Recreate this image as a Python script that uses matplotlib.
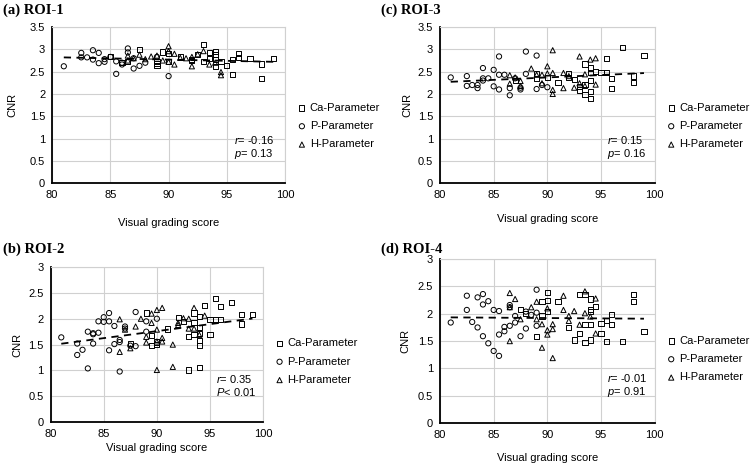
import matplotlib
matplotlib.use("Agg")
import matplotlib.pyplot as plt
import numpy as np

plt.rcParams['font.family'] = ['Liberation Sans', 'DejaVu Sans']
plt.rcParams['mathtext.fontset'] = 'custom'
plt.rcParams['mathtext.it'] = 'Liberation Sans:italic'
plt.rcParams['mathtext.rm'] = 'Liberation Sans'

# ---- ROI-1 ----
a_ca_x = [85, 86, 86.5, 87.5, 89, 89, 89.5, 90, 90, 91, 92, 92.5, 93, 93, 93.5, 93.5, 94, 94, 94, 94,
          94.5, 95, 95.5, 95.5, 96, 96, 97, 98, 98, 99, 89, 92]
a_ca_y = [2.84, 2.71, 2.73, 3.0, 2.68, 2.73, 2.94, 2.9, 2.73, 2.83, 2.75, 2.88, 3.11, 2.72, 2.92, 2.79,
          2.96, 2.89, 2.77, 2.62, 2.72, 2.64, 2.77, 2.44, 2.9, 2.82, 2.79, 2.67, 2.34, 2.79, 2.64, 2.78]
a_p_x = [81, 82.5, 82.5, 83, 83.5, 83.5, 84, 84, 84.5, 85, 85.5, 85.5, 86, 86, 86.5, 86.5, 87, 87.5,
         88, 89, 90, 84.5, 87]
a_p_y = [2.62, 2.92, 2.82, 2.82, 2.98, 2.77, 2.92, 2.69, 2.72, 2.83, 2.45, 2.73, 2.66, 2.7, 3.02, 2.93,
         2.57, 2.63, 2.7, 2.83, 2.4, 2.78, 2.8]
a_h_x = [86.5, 86.5, 87.5, 88.5, 89, 89.5, 90, 90, 90, 90.5, 90.5, 91, 91.5, 92, 92, 92.5, 93, 93.5,
         94, 94.5, 94.5, 87, 88]
a_h_y = [2.86, 2.75, 2.88, 2.84, 2.86, 2.75, 3.07, 2.96, 2.72, 2.9, 2.66, 2.81, 2.8, 2.62, 2.83, 2.89,
         2.96, 2.66, 2.7, 2.49, 2.42, 2.8, 2.78]

# ---- ROI-2 ----
b_ca_x = [87.5, 89, 89.5, 89.5, 90, 91, 92, 92.5, 93, 93, 93.5, 93.5, 93.5, 94, 94, 94, 94, 94, 94,
          94.5, 95, 95, 95.5, 95.5, 96, 96, 97, 98, 98, 99, 90]
b_ca_y = [1.52, 2.11, 1.67, 1.49, 1.5, 1.8, 2.03, 1.95, 1.66, 1.01, 1.92, 2.11, 1.69, 2.05, 1.83, 1.71,
          1.58, 1.49, 1.05, 2.25, 1.99, 1.7, 2.39, 1.99, 2.23, 1.98, 2.32, 2.08, 1.9, 2.08, 1.55]
b_p_x = [81, 82.5, 82.5, 83, 83.5, 83.5, 84, 84, 84.5, 84.5, 85, 85, 85.5, 85.5, 85.5, 86, 86, 86.5,
         86.5, 87, 87, 87.5, 88, 88, 89, 89, 90, 84, 86.5]
b_p_y = [1.64, 1.52, 1.30, 1.40, 1.04, 1.75, 1.72, 1.52, 1.73, 1.95, 2.03, 1.94, 2.11, 1.95, 1.39, 1.86,
         1.51, 1.59, 0.98, 1.85, 1.81, 1.48, 1.47, 2.13, 1.95, 1.75, 2.0, 1.7, 1.55]
b_h_x = [86.5, 86.5, 87, 87.5, 88.5, 89, 89, 89.5, 89.5, 90, 90, 90, 90, 90.5, 90.5, 90.5, 91.5, 91.5,
         92, 92.5, 93, 93, 93.5, 93.5, 94, 94.5, 88, 92]
b_h_y = [1.99, 1.36, 1.79, 1.43, 2.0, 1.65, 1.54, 2.1, 1.92, 2.17, 1.79, 1.56, 1.01, 2.21, 1.63, 1.56,
         1.5, 1.07, 1.92, 2.01, 2.0, 1.81, 2.21, 1.81, 1.69, 2.06, 1.85, 1.88]

# ---- ROI-3 ----
c_ca_x = [87, 89, 89, 90, 91, 92, 92, 92.5, 93, 93, 93.5, 93.5, 93.5, 94, 94, 94, 94, 94, 94.5, 95,
          95.5, 95.5, 96, 96, 97, 98, 98, 99]
c_ca_y = [2.31, 2.35, 2.45, 2.37, 2.25, 2.45, 2.37, 2.33, 2.09, 2.17, 2.67, 2.22, 1.98, 2.58, 2.48,
          2.3, 2.05, 1.9, 2.5, 2.48, 2.48, 2.8, 2.35, 2.12, 3.04, 2.4, 2.26, 2.87]
c_p_x = [81, 82.5, 82.5, 83, 83.5, 83.5, 84, 84, 84.5, 85, 85, 85.5, 85.5, 85.5, 86, 86.5, 86.5, 87,
         87.5, 88, 88, 89, 89, 89.5, 90, 87.5, 84]
c_p_y = [2.37, 2.18, 2.40, 2.2, 2.2, 2.13, 2.58, 2.35, 2.35, 2.54, 2.17, 2.84, 2.43, 2.1, 2.43, 1.97,
         2.13, 2.35, 2.14, 2.95, 2.45, 2.86, 2.11, 2.2, 2.15, 2.1, 2.3]
c_h_x = [86.5, 86.5, 87, 87.5, 87.5, 88.5, 89, 89.5, 89.5, 90, 90, 90.5, 90.5, 90.5, 90.5, 91.5, 91.5,
         92.5, 93, 93, 93.5, 94, 94.5, 94.5, 92, 93.5]
c_h_y = [2.42, 2.23, 2.37, 2.29, 2.18, 2.57, 2.43, 2.43, 2.24, 2.62, 2.46, 2.47, 2.98, 2.09, 2.0, 2.47,
         2.13, 2.14, 2.84, 2.24, 2.44, 2.77, 2.8, 2.21, 2.4, 2.18]

# ---- ROI-4 ----
d_ca_x = [87.5, 88, 89, 89.5, 89.5, 90, 90, 91, 92, 92.5, 93, 93, 93.5, 93.5, 93.5, 94, 94, 94, 94, 94,
          94.5, 95, 95, 95.5, 95.5, 96, 96, 97, 98, 98, 99, 90]
d_ca_y = [2.08, 2.01, 1.58, 1.96, 2.22, 2.39, 2.24, 2.23, 1.75, 1.52, 2.35, 1.64, 2.35, 1.81, 1.48,
          2.27, 2.08, 2.04, 1.81, 1.52, 2.13, 1.82, 1.64, 1.87, 1.49, 1.99, 1.81, 1.49, 2.35, 2.22,
          1.67, 2.04]
d_p_x = [81, 82.5, 82.5, 83, 83.5, 83.5, 84, 84, 84, 84.5, 84.5, 85, 85, 85.5, 85.5, 85.5, 86, 86,
         86.5, 86.5, 87, 87, 87.5, 88, 88, 89, 89, 89, 86.5, 88.5]
d_p_y = [1.84, 2.33, 2.07, 1.85, 2.3, 1.75, 2.36, 2.17, 1.59, 2.23, 1.46, 2.07, 1.32, 2.05, 1.62, 1.23,
         1.76, 1.68, 1.78, 2.16, 1.96, 1.84, 1.59, 1.73, 2.04, 2.44, 2.02, 1.78, 2.12, 1.98]
d_h_x = [86.5, 86.5, 86.5, 87, 87.5, 88.5, 89, 89, 89.5, 89.5, 90, 90, 90, 90.5, 90.5, 90.5, 91.5,
         91.5, 92, 92, 92.5, 93, 93.5, 93.5, 94.5, 94.5, 94]
d_h_y = [2.38, 2.12, 1.5, 2.27, 1.9, 2.12, 2.22, 1.9, 1.81, 1.38, 2.1, 1.7, 1.62, 1.81, 1.72, 1.19,
         2.33, 2.07, 1.96, 1.87, 2.05, 1.8, 2.41, 2.01, 2.28, 1.64, 1.95]

titles = ["(a) ROI-1", "(b) ROI-2", "(c) ROI-3", "(d) ROI-4"]
r_texts = ["-0.16", "0.35", "0.15", "-0.01"]
p_texts = [r"$\it{p}$= 0.13", r"$\it{P}$< 0.01", r"$\it{p}$= 0.16", r"$\it{p}$= 0.91"]
y_tops = [3.5, 3, 3.5, 3]
series_labels = ["Ca-Parameter", "P-Parameter", "H-Parameter"]

panels = [
    (a_ca_x, a_ca_y, a_p_x, a_p_y, a_h_x, a_h_y),
    (b_ca_x, b_ca_y, b_p_x, b_p_y, b_h_x, b_h_y),
    (c_ca_x, c_ca_y, c_p_x, c_p_y, c_h_x, c_h_y),
    (d_ca_x, d_ca_y, d_p_x, d_p_y, d_h_x, d_h_y),
]

# axes rectangles in figure fractions (left, bottom, width, height)
rects = [
    (0.069, 0.607, 0.308, 0.335),
    (0.067, 0.094, 0.281, 0.333),
    (0.582, 0.607, 0.284, 0.335),
    (0.582, 0.092, 0.284, 0.352),
]
title_pos = [(0.004, 0.978), (0.004, 0.465), (0.504, 0.978), (0.504, 0.465)]
legend_y = [0.365, 0.39, 0.365, 0.39]
xlabel_pad = [13, 3, 10, 9]
ylabel_pad = [9, 4, 4, 5]

fig = plt.figure(figsize=(7.56, 4.66), dpi=100)

for i, data in enumerate(panels):
    ca_x, ca_y, p_x, p_y, h_x, h_y = data
    ax = fig.add_axes(rects[i])
    mk = dict(facecolor='none', edgecolor='black', linewidths=0.7, zorder=3)
    ax.scatter(ca_x, ca_y, marker='s', s=14, label=series_labels[0], **mk)
    ax.scatter(p_x, p_y, marker='o', s=14, label=series_labels[1], **mk)
    ax.scatter(h_x, h_y, marker='^', s=14, label=series_labels[2], **mk)

    # linear trend of all points
    all_x = np.array(ca_x + p_x + h_x)
    all_y = np.array(ca_y + p_y + h_y)
    k, b0 = np.polyfit(all_x, all_y, 1)
    xx = np.array([all_x.min(), all_x.max()])
    ax.plot(xx, k * xx + b0, color='black', lw=1.3, ls=(0, (4, 3)), zorder=4)

    ax.set_xlim(80, 100)
    ax.set_ylim(0, y_tops[i])
    ax.set_xticks([80, 85, 90, 95, 100])
    ax.set_yticks(np.arange(0, y_tops[i] + 0.01, 0.5))
    ax.set_yticklabels([f"{v:g}" for v in np.arange(0, y_tops[i] + 0.01, 0.5)])
    ax.grid(True, color='#d0d0d0', lw=0.8)
    ax.set_axisbelow(True)
    ax.tick_params(length=0, labelsize=8, pad=5)
    for s in ['top', 'right']:
        ax.spines[s].set_color('#d0d0d0')
        ax.spines[s].set_linewidth(0.8)
    for s in ['left', 'bottom']:
        ax.spines[s].set_color('black')
        ax.spines[s].set_linewidth(1.3)
    ax.set_xlabel("Visual grading score", fontsize=8, labelpad=xlabel_pad[i])
    ax.set_ylabel("CNR", fontsize=8, labelpad=ylabel_pad[i])

    ax.text(0.78, 0.25, r"$\it{r}$= " + r_texts[i], transform=ax.transAxes, fontsize=8)
    ax.text(0.78, 0.17, p_texts[i], transform=ax.transAxes, fontsize=8)

    ax.legend(loc='center left', bbox_to_anchor=(1.02, legend_y[i]), frameon=False,
              fontsize=8, handletextpad=0.1, labelspacing=0.75, borderpad=0, handlelength=1.2)

    fig.text(title_pos[i][0], title_pos[i][1], titles[i], fontsize=10.5, fontweight='bold',
             family='Liberation Serif', va='center')

fig.savefig("out.png", dpi=100)
